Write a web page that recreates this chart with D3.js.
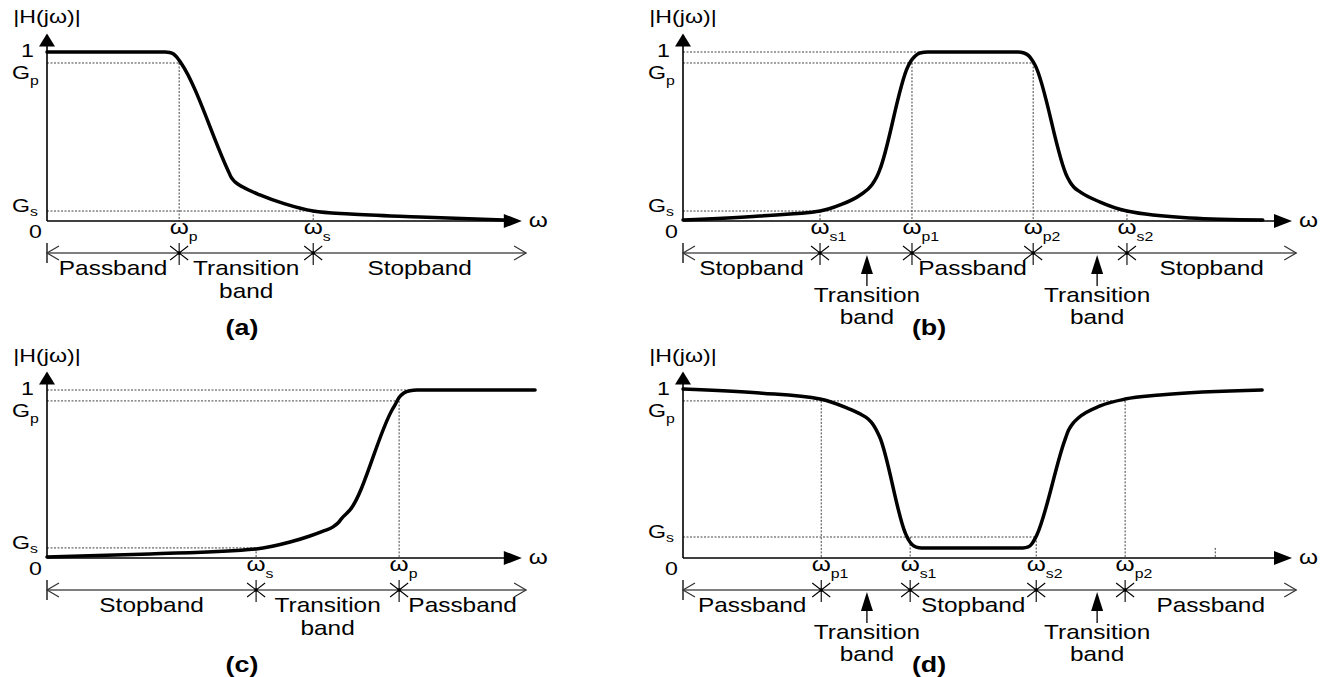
<!DOCTYPE html>
<html><head><meta charset="utf-8">
<script src="https://cdn.jsdelivr.net/npm/d3@7"></script>
<style>body{margin:0;background:#fff}svg{display:block}</style>
</head><body>
<svg id="chart" width="1329" height="677"></svg>
<script>
// ---------------- DATA (ω in arbitrary units 0..10, |H| in 0..1) ----------------
const curveA = [[0,1],[2.5,1],[2.6,0.997],[2.68,0.988],[2.75,0.97],[2.84,0.935],[3.83,0.302],[3.9,0.26],[3.98,0.232],[4.15,0.201],[4.51,0.154],[5.04,0.101],[5.64,0.059],[6.42,0.041],[7.9,0.024],[9.7,0.006]];
const curveB = [[0,0.006],[1.26,0.03],[2.25,0.059],[2.58,0.095],[2.91,0.154],[3.1,0.213],[3.18,0.26],[3.23,0.302],[3.69,0.911],[3.74,0.945],[3.8,0.972],[3.89,0.994],[4.02,1],[5.5,1],[5.6,0.994],[5.67,0.98],[5.72,0.958],[5.78,0.923],[6.31,0.26],[6.36,0.228],[6.42,0.2],[6.52,0.172],[6.85,0.112],[7.29,0.059],[8.33,0.018],[9.52,0.006]];
const curveC = [[0,0.006],[2.18,0.024],[4.43,0.054],[5.15,0.095],[5.57,0.131],[5.85,0.16],[6.06,0.185],[6.17,0.21],[6.25,0.238],[6.42,0.286],[7.31,0.881],[7.38,0.915],[7.46,0.955],[7.56,0.982],[7.69,0.996],[7.84,1],[10.34,1]];
const curveD = [[0,1.006],[1.26,0.982],[2.25,0.946],[2.69,0.893],[2.92,0.855],[3.04,0.827],[3.12,0.795],[3.23,0.72],[3.65,0.149],[3.7,0.11],[3.76,0.08],[3.83,0.065],[3.92,0.06],[5.58,0.06],[5.67,0.066],[5.73,0.085],[5.78,0.115],[5.81,0.137],[6.27,0.702],[6.33,0.76],[6.4,0.8],[6.49,0.833],[6.85,0.905],[7.26,0.946],[7.83,0.97],[9.51,1]];

const yTickLabels = [["1",""],["G","p"],["G","s"]];
const levelsA = [1, 0.935, 0.059];
const levelsB = [1, 0.935, 0.059];
const levelsC = [1, 0.935, 0.06];
const levelsD = [1, 0.935, 0.125];

const edgesA = [2.80, 5.64];             const edgeLabelsA = [["ω","p"],["ω","s"]];
const edgesB = [2.25, 3.76, 5.75, 7.29]; const edgeLabelsB = [["ω","s1"],["ω","p1"],["ω","p2"],["ω","s2"]];
const edgesC = [4.43, 7.46];             const edgeLabelsC = [["ω","s"],["ω","p"]];
const edgesD = [2.27, 3.73, 5.80, 7.26]; const edgeLabelsD = [["ω","p1"],["ω","s1"],["ω","s2"],["ω","p2"]];

// horizontal guides: [level, ω where it ends]; vertical guides: [ω, level where it starts]
const hGuidesA = [[0.935, 2.80], [0.059, 5.64]];
const vGuidesA = [[2.80, 0.935], [5.64, 0.059]];
const hGuidesB = [[1, 3.89], [0.935, 5.75], [0.059, 7.29]];
const vGuidesB = [[2.25, 0.059], [3.76, 0.935], [5.75, 0.935], [7.29, 0.059]];
const hGuidesC = [[1, 7.69], [0.935, 7.46], [0.06, 4.43]];
const vGuidesC = [[4.43, 0.06], [7.46, 0.935]];
const hGuidesD = [[0.935, 7.26], [0.125, 5.80]];
const vGuidesD = [[2.27, 0.935], [3.73, 0.125], [5.80, 0.125], [7.26, 0.935], [8.74, 0.06]];

const bandNamesA = ["Passband", "Transition\nband", "Stopband"];
const bandNamesB = ["Stopband", "", "Passband", "", "Stopband"];
const bandNamesC = ["Stopband", "Transition\nband", "Passband"];
const bandNamesD = ["Passband", "", "Stopband", "", "Passband"];
const transArrowsB = [3.02, 6.80];
const transArrowsD = [3.02, 6.80];
const transLabel = "Transition\nband";
const axisLabelY = "|H(jω)|", axisLabelX = "ω", originLabel = "0";
const panelLetters = ["(a)", "(b)", "(c)", "(d)"];

// ---------------- LAYOUT ----------------
const FONT = "'Liberation Sans', Arial, Helvetica, sans-serif";
const SX = 1.22; // horizontal stretch of the original figure's lettering
const svg = d3.select("#chart");

const panels = [
  {curve: curveA, levels: levelsA, edges: edgesA, edgeLabels: edgeLabelsA, hG: hGuidesA, vG: vGuidesA, bands: bandNamesA, arrows: [], letter: panelLetters[0],
   xr: [47, 519], yr: [221, 52], axisEnd: 10.06, bandEnd: 10.15, letterX: 4.13},
  {curve: curveB, levels: levelsB, edges: edgesB, edgeLabels: edgeLabelsB, hG: hGuidesB, vG: vGuidesB, bands: bandNamesB, arrows: transArrowsB, letter: panelLetters[1],
   xr: [683, 1292], yr: [221, 52], axisEnd: 10.0, bandEnd: 10.07, letterX: 4.04},
  {curve: curveC, levels: levelsC, edges: edgesC, edgeLabels: edgeLabelsC, hG: hGuidesC, vG: vGuidesC, bands: bandNamesC, arrows: [], letter: panelLetters[2],
   xr: [47, 519], yr: [558, 390], axisEnd: 10.06, bandEnd: 10.15, letterX: 4.13},
  {curve: curveD, levels: levelsD, edges: edgesD, edgeLabels: edgeLabelsD, hG: hGuidesD, vG: vGuidesD, bands: bandNamesD, arrows: transArrowsD, letter: panelLetters[3],
   xr: [683, 1292], yr: [558, 390], axisEnd: 10.0, bandEnd: 10.07, letterX: 4.04}
];

function addText(g, x, y, main, opt = {}) {
  const size = opt.size || 19;
  const t = g.append("text")
    .attr("font-family", FONT).attr("font-size", size)
    .attr("font-weight", opt.weight || "normal").attr("fill", "#000");
  const m = t.append("tspan").text(main);
  if (opt.sub) t.append("tspan").attr("font-size", opt.subSize || 13).attr("dy", opt.subDy || 7).text(opt.sub);
  let anchor = opt.anchor || "start";
  let dx = 0;
  if (anchor === "main-middle") {
    dx = -m.node().getComputedTextLength() * SX / 2;
    anchor = "start";
  }
  t.attr("text-anchor", anchor).attr("transform", `translate(${x + dx},${y}) scale(${SX},1)`);
  return t;
}

panels.forEach((p, i) => {
  const g = svg.append("g");
  const x = d3.scaleLinear().domain([0, 10]).range(p.xr);
  const y = d3.scaleLinear().domain([0, 1]).range(p.yr);
  const x0 = x(0), y0 = y(0);
  const yTop = y(1.11), xTip = x(p.axisEnd);

  // dotted guides
  g.selectAll(".hg").data(p.hG).enter().append("line")
    .attr("x1", x0).attr("x2", d => x(d[1])).attr("y1", d => y(d[0])).attr("y2", d => y(d[0]))
    .attr("stroke", "#444").attr("stroke-width", 1).attr("stroke-dasharray", "2,1.5");
  g.selectAll(".vg").data(p.vG).enter().append("line")
    .attr("x1", d => x(d[0])).attr("x2", d => x(d[0])).attr("y1", d => y(d[1])).attr("y2", y0)
    .attr("stroke", "#444").attr("stroke-width", 1).attr("stroke-dasharray", "2,1.5");

  // axes
  g.append("line").attr("x1", x0).attr("x2", x0).attr("y1", y0).attr("y2", yTop + 10)
    .attr("stroke", "#000").attr("stroke-width", 1.6);
  g.append("path").attr("d", `M${x0},${yTop} L${x0 - 8},${yTop + 13} L${x0 + 8},${yTop + 13} Z`).attr("fill", "#000");
  g.append("line").attr("x1", x0).attr("x2", xTip - 14).attr("y1", y0).attr("y2", y0)
    .attr("stroke", "#000").attr("stroke-width", 1.6);
  g.append("path").attr("d", `M${xTip},${y0} L${xTip - 18},${y0 - 7} L${xTip - 18},${y0 + 7} Z`).attr("fill", "#000");

  // curve
  g.append("path").datum(p.curve)
    .attr("d", d3.line().x(d => x(d[0])).y(d => y(d[1])).curve(d3.curveMonotoneX))
    .attr("fill", "none").attr("stroke", "#000").attr("stroke-width", 3.5)
    .attr("stroke-linejoin", "round").attr("stroke-linecap", "round");

  // axis labels
  addText(g, x0, yTop - 10, axisLabelY, {anchor: "middle", size: 19});
  addText(g, xTip + 7, y0 + 6, axisLabelX, {size: 20});
  addText(g, x0 - 5, y0 + 17, originLabel, {anchor: "end", size: 19});

  // y tick labels
  p.levels.forEach((lv, k) => {
    const [m, s] = yTickLabels[k];
    if (k === 0) addText(g, x0 - 13, y(lv) + 5, m, {anchor: "end", size: 19});
    else if (k === 1) addText(g, x0 - 35, y(lv) + 16, m, {sub: s, size: 19, subSize: 13, subDy: 6});
    else addText(g, x0 - 35, y(lv) + 1, m, {sub: s, size: 19, subSize: 13, subDy: 4});
  });

  // x edge labels
  p.edges.forEach((e, k) => {
    addText(g, x(e), y0 + 13, p.edgeLabels[k][0], {anchor: "main-middle", sub: p.edgeLabels[k][1], size: 20, subSize: 13, subDy: 7});
  });

  // band row
  const by = y0 + 32, xEnd = x(p.bandEnd);
  g.append("line").attr("x1", x0).attr("x2", xEnd).attr("y1", by).attr("y2", by).attr("stroke", "#555").attr("stroke-width", 1.3);
  g.append("line").attr("x1", x0).attr("x2", x0).attr("y1", by - 10).attr("y2", by + 10).attr("stroke", "#000").attr("stroke-width", 1.3);
  g.append("path").attr("d", `M${x0 + 12},${by - 7} L${x0},${by} L${x0 + 12},${by + 7}`).attr("fill", "none").attr("stroke", "#333").attr("stroke-width", 1.2);
  g.append("path").attr("d", `M${xEnd - 12},${by - 7} L${xEnd},${by} L${xEnd - 12},${by + 7}`).attr("fill", "none").attr("stroke", "#333").attr("stroke-width", 1.2);
  p.edges.forEach(e => {
    const cx = x(e);
    g.append("path").attr("d", `M${cx - 9},${by - 7} L${cx + 9},${by + 7} M${cx - 9},${by + 7} L${cx + 9},${by - 7} M${cx},${by - 10} L${cx},${by + 12}`)
      .attr("stroke", "#000").attr("stroke-width", 1.1).attr("fill", "none");
    g.append("circle").attr("cx", cx).attr("cy", by).attr("r", 1.8).attr("fill", "#000");
  });

  // band names
  const bounds = [0, ...p.edges, p.bandEnd];
  p.bands.forEach((name, k) => {
    if (!name) return;
    const cx = (x(bounds[k]) + x(bounds[k + 1])) / 2;
    const lines = name.split("\n");
    lines.forEach((ln, j) => addText(g, cx, by + 22 + j * 23, ln, {anchor: "middle", size: 20}));
  });

  // transition arrows
  p.arrows.forEach(a => {
    const ax = x(a);
    g.append("path").attr("d", `M${ax},${by + 2} L${ax - 6},${by + 21} L${ax + 6},${by + 21} Z`).attr("fill", "#000");
    g.append("line").attr("x1", ax).attr("x2", ax).attr("y1", by + 20).attr("y2", by + 33).attr("stroke", "#000").attr("stroke-width", 1.3);
    transLabel.split("\n").forEach((ln, j) => addText(g, ax, by + 49 + j * 22, ln, {anchor: "middle", size: 20}));
  });

  // panel letter
  addText(g, x(p.letterX), by + 82, p.letter, {anchor: "middle", size: 22, weight: "bold"});
});
</script>
</body></html>
